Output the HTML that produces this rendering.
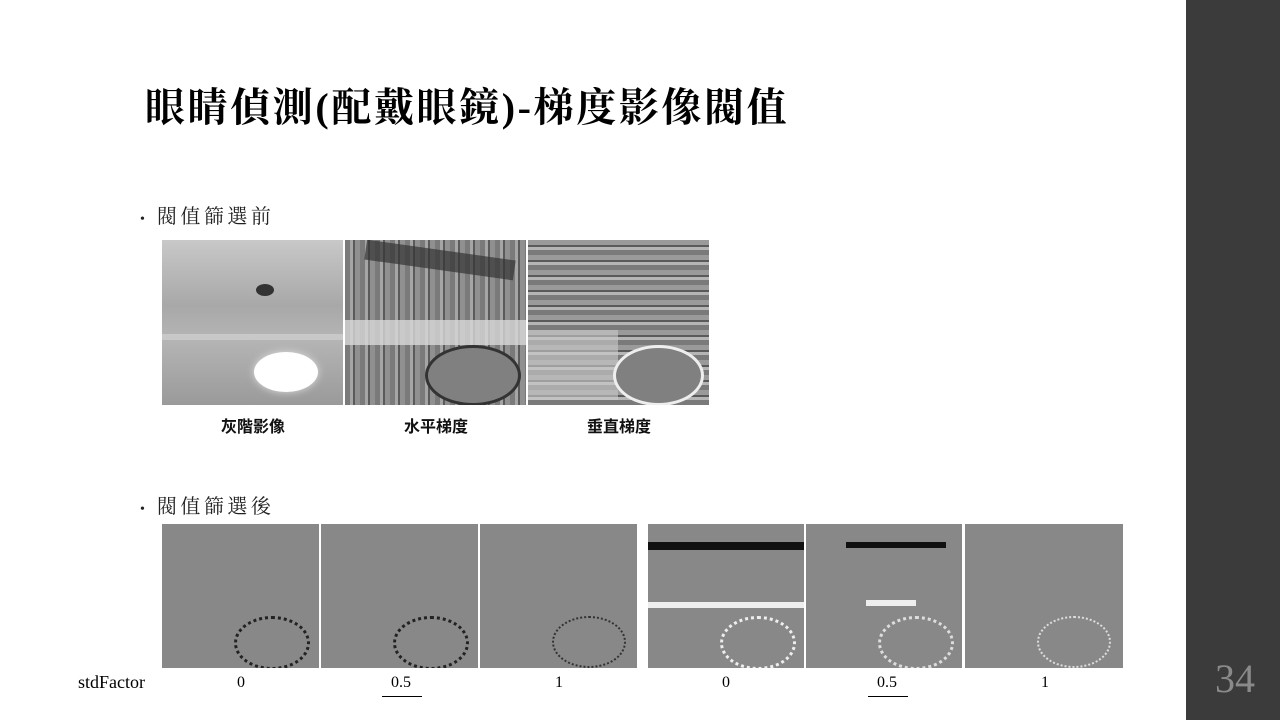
<!DOCTYPE html>
<html><head><meta charset="utf-8">
<style>
body{margin:0;width:1280px;height:720px;position:relative;background:#fff;overflow:hidden;font-family:"Liberation Serif","Noto Serif CJK SC","Noto Sans CJK TC",serif;}
.abs{position:absolute;}
.img{position:absolute;background:#808080;overflow:hidden;}
.cap{position:absolute;font-family:"Liberation Sans","Noto Sans CJK TC",sans-serif;font-size:16px;font-weight:bold;text-align:center;width:182px;top:413px;color:#111;}
.sf{position:absolute;top:674px;font-size:16px;text-align:center;width:60px;color:#000;}
.circ{position:absolute;border-radius:50%;}
</style></head><body>
<div class="abs" style="left:1186px;top:0;width:94px;height:720px;background:#3b3b3b"></div>
<div class="abs" style="left:1200px;top:655px;width:70px;text-align:center;font-size:40px;color:#8a8a8a">34</div>
<div class="abs" style="left:145px;top:76px;font-size:40px;letter-spacing:2.6px;font-weight:bold;color:#000;font-family:'Liberation Serif','Noto Serif CJK SC',serif;white-space:nowrap">眼睛偵測(配戴眼鏡)-梯度影像閥值</div>
<div class="abs" style="left:140px;top:200px;font-size:20px;letter-spacing:3.5px;color:#222;white-space:nowrap"><span style="font-size:14px;letter-spacing:0;margin-right:12px">•</span>閥值篩選前</div>
<div class="abs" style="left:140px;top:490px;font-size:20px;letter-spacing:3.5px;color:#222;white-space:nowrap"><span style="font-size:14px;letter-spacing:0;margin-right:12px">•</span>閥值篩選後</div>

<div class="img" style="left:162px;top:240px;width:181px;height:165px;background:linear-gradient(180deg,#c8c8c8 0%,#a8a8a8 40%,#b5b5b5 60%,#9a9a9a 100%)">
 <div class="circ" style="left:92px;top:112px;width:64px;height:40px;background:#fff;box-shadow:0 0 8px #ddd"></div>
 <div class="circ" style="left:94px;top:44px;width:18px;height:12px;background:#333"></div>
 <div class="abs" style="left:0;top:94px;width:181px;height:6px;background:#c8c8c8"></div>
</div>
<div class="img" style="left:345px;top:240px;width:181px;height:165px;background:repeating-linear-gradient(90deg,#7a7a7a 0 5px,#a5a5a5 5px 8px,#5a5a5a 8px 10px,#909090 10px 15px),#888">
 <div class="abs" style="left:20px;top:10px;width:150px;height:20px;background:#333;transform:rotate(8deg);opacity:.7"></div>
 <div class="abs" style="left:0;top:80px;width:181px;height:25px;background:#d8d8d8;opacity:.8"></div>
 <div class="circ" style="left:80px;top:105px;width:90px;height:55px;background:#808080;border:3px solid #333"></div>
</div>
<div class="img" style="left:528px;top:240px;width:181px;height:165px;background:repeating-linear-gradient(0deg,#7a7a7a 0 5px,#b5b5b5 5px 8px,#5a5a5a 8px 10px,#9a9a9a 10px 15px)">
 <div class="abs" style="left:0;top:90px;width:90px;height:70px;background:#ccc;opacity:.6"></div>
 <div class="circ" style="left:85px;top:105px;width:85px;height:55px;background:#808080;border:3px solid #eee"></div>
</div>
<div class="cap" style="left:162px">灰階影像</div>
<div class="cap" style="left:345px">水平梯度</div>
<div class="cap" style="left:528px">垂直梯度</div>

<div class="img" style="left:162px;top:524px;width:157px;height:144px;background:#888"><div class="circ" style="left:72px;top:92px;width:70px;height:48px;border:3px dotted #222"></div></div>
<div class="img" style="left:321px;top:524px;width:157px;height:144px;background:#888"><div class="circ" style="left:72px;top:92px;width:70px;height:48px;border:3px dotted #222"></div></div>
<div class="img" style="left:480px;top:524px;width:157px;height:144px;background:#888"><div class="circ" style="left:72px;top:92px;width:70px;height:48px;border:2px dotted #333"></div></div>
<div class="img" style="left:648px;top:524px;width:156px;height:144px;background:#888"><div class="abs" style="left:0;top:18px;width:156px;height:8px;background:#111"></div><div class="abs" style="left:0;top:78px;width:156px;height:6px;background:#eee"></div><div class="circ" style="left:72px;top:92px;width:70px;height:48px;border:3px dotted #eee"></div></div>
<div class="img" style="left:806px;top:524px;width:156px;height:144px;background:#888"><div class="abs" style="left:40px;top:18px;width:100px;height:6px;background:#111"></div><div class="abs" style="left:60px;top:76px;width:50px;height:6px;background:#eee"></div><div class="circ" style="left:72px;top:92px;width:70px;height:48px;border:3px dotted #ddd"></div></div>
<div class="img" style="left:965px;top:524px;width:158px;height:144px;background:#888"><div class="circ" style="left:72px;top:92px;width:70px;height:48px;border:2px dotted #ddd"></div></div>

<div class="abs" style="left:78px;top:672px;font-size:18px">stdFactor</div>
<div class="sf" style="left:211px">0</div>
<div class="sf" style="left:371px">0.5</div>
<div class="sf" style="left:529px">1</div>
<div class="sf" style="left:696px">0</div>
<div class="sf" style="left:857px">0.5</div>
<div class="sf" style="left:1015px">1</div>
<div class="abs" style="left:382px;top:696px;width:40px;height:1px;background:#000"></div>
<div class="abs" style="left:868px;top:696px;width:40px;height:1px;background:#000"></div>
</body></html>
